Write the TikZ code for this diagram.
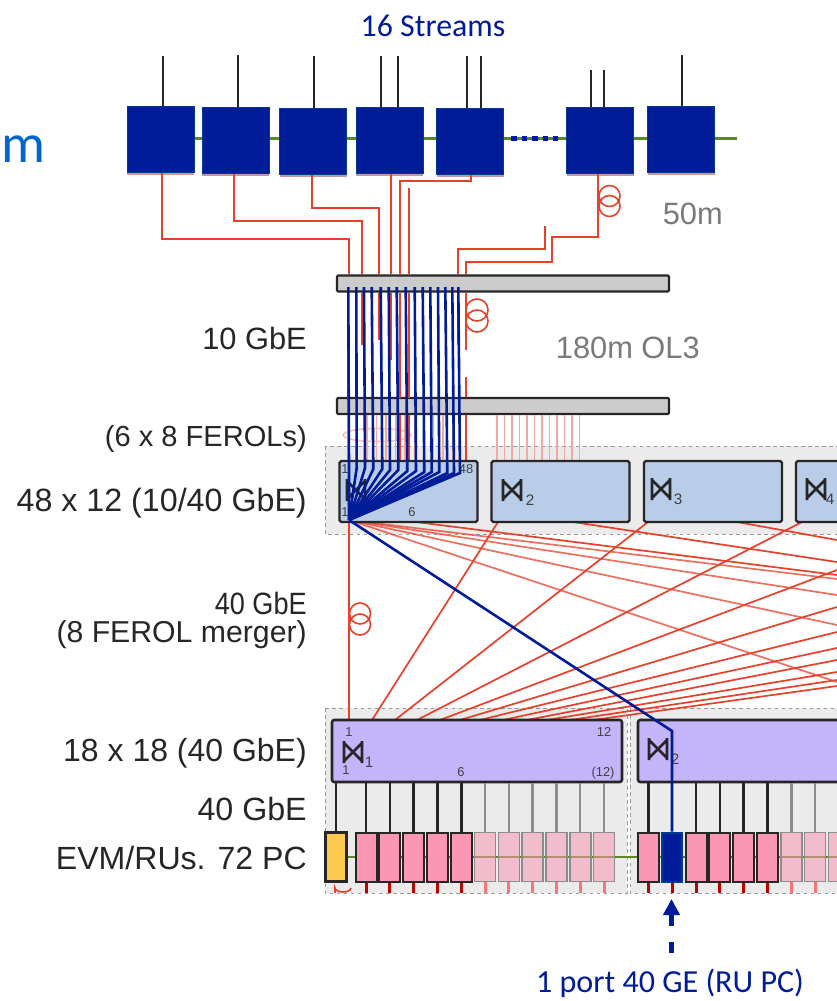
\documentclass[tikz,border=0pt]{standalone}
\usepackage{graphicx}
\usepackage{fontspec}
\setmainfont{Liberation Sans}
\newfontfamily\slidefont{Carlito}
\usetikzlibrary{arrows.meta,shadows}
\newcommand{\px}{0.03cm}
\definecolor{navy}{HTML}{001C99}
\definecolor{wirered}{HTML}{E8402A}
\definecolor{lightred}{HTML}{F2A9A0}
\definecolor{swblue}{HTML}{B9CDE8}
\definecolor{spine}{HTML}{C4B5FB}
\definecolor{pcpink}{HTML}{FB97B4}
\definecolor{greytxt}{HTML}{7A7A7A}
\definecolor{busgreen}{HTML}{5A8A22}
\definecolor{evmyellow}{HTML}{FDC94F}
\tikzset{
  feu/.style={draw=navy!70!teal,fill=navy,line width=1*\px,minimum width=67*\px,minimum height=66*\px,inner sep=0pt,
    drop shadow={shadow xshift=0pt,shadow yshift=-2.5pt,opacity=0.4,fill=red!40!black}},
  bar/.style={draw=black!85,fill=black!20,line width=2.2*\px,rounded corners=1pt,minimum width=332*\px,minimum height=16*\px,inner sep=0pt},
  leaf/.style={draw=black!85,fill=swblue,line width=2.4*\px,rounded corners=1.5pt,minimum width=138*\px,minimum height=61*\px,inner sep=0pt},
  spinebox/.style={draw=black!85,fill=spine,line width=2.6*\px,rounded corners=2pt,minimum width=290*\px,minimum height=62*\px,inner sep=0pt},
  pc/.style={draw=black!85,fill=pcpink,line width=2*\px,minimum width=21*\px,minimum height=49*\px,inner sep=0pt},
  pcfade/.style={draw=black!45,fill=pcpink,fill opacity=0.55,line width=1.6*\px,minimum width=21*\px,minimum height=49*\px,inner sep=0pt},
  band/.style={draw=black!40,fill=black!8,dashed,line width=1*\px},
  redwire/.style={draw=wirered,line width=2*\px},
  meshwire/.style={draw=wirered,line width=1.7*\px},
  fadewire/.style={draw=lightred,line width=1.6*\px},
  coil/.style={draw=wirered,line width=1.6*\px},
  blueflow/.style={draw=navy,line width=2.6*\px},
  feeder/.style={draw=black!85,line width=2.6*\px},
  feederfade/.style={draw=black!45,line width=2.4*\px},
  stubred/.style={draw=red!75!black,line width=3*\px},
  stubfade/.style={draw=red!55!white,line width=3*\px},
  lab/.style={anchor=east,font=\fontsize{26.3}{26.3}\selectfont,text=black!85,inner sep=0pt},
  tinylab/.style={font=\fontsize{11}{11}\selectfont,text=black!75,inner sep=0pt},
  sublab/.style={font=\fontsize{13}{13}\selectfont,text=black!75,inner sep=0pt},
  xbar/.pic={\draw[black!85,line width=2.6*\px] (-9,-11) -- (-9,11) (9,-11) -- (9,11) (-9,-9) -- (9,9) (-9,9) -- (9,-9);}
}
\begin{document}
\begin{tikzpicture}[x=0.03cm,y=-0.03cm]
   \clip (0,0) rectangle (837,1001);
   \fill[white] (0,0) rectangle (837,1001);

   \node[text=navy,font=\slidefont\fontsize{27.2}{27.2}\selectfont,inner sep=0pt] (streams) at (433,26) {16 Streams};
   \node[text=blue!50!cyan!80!black,font=\slidefont\fontsize{47}{47}\selectfont,anchor=west,inner sep=0pt] (cutm) at (1,149) {m};

   %readout crates on the top row
   \draw[draw=busgreen,line width=3*\px] (194,138) -- (737,138);
   \foreach \n/\cx/\cy in {a/160.5/139,b/235.5/140,c/313/141,d/389.5/140,e/470/141,f/600/140,g/681/139}
      \node[feu] (top\n) at (\cx,\cy) {};
   \draw[draw=navy,line width=5*\px,dash pattern=on 5.5*\px off 5*\px] (511,138) -- (558,138);
   \foreach \n/\xa/\ya in {a/163/56,b/238/55,c/314/56,d/381/56,d/398/56,e/467/56,e/481/56,f/591/70,f/604/70,g/682/55} {
      \coordinate (stub) at (\xa,\ya);
      \draw[black!85,line width=2*\px] (stub) -- (stub |- top\n.north);
   }

   \node[bar] (barA) at (503,283.5) {};
   \node[bar] (barB) at (503,406) {};

   %fibres from the crates down to the patch panel
   \foreach \n/\xa/\ya/\xb in {a/162/239/349,b/234/221/362,c/312/208/379,e/471/181/400}
      \draw[redwire] (\xa,0 |- top\n.south) |- (\xb,\ya) -- (\xb,0 |- barA.north);
   \draw[redwire] (391,0 |- topd.south) -- (391,0 |- barA.north);
   \coordinate (sparewire) at (409,188);
   \draw[redwire] (sparewire) -- (sparewire |- barA.north);
   \draw[redwire] (598,0 |- topf.south) |- (552,237) |- (466,262) -- (466,0 |- barA.north);
   \coordinate (loosewire) at (545,226);
   \draw[redwire] (loosewire) |- (458,249) -- (458,0 |- barA.north);
   \draw[coil] (609.5,196) circle (10.5) (609.5,206) circle (10.5);

   \node[lab,text=greytxt] (fifty) at (723,214) {50m};
   \node[lab,text=greytxt] (olthree) at (700,348) {180m OL3};

   %fibres between the two bars
   \foreach \xa/\yb in {348/400,362/345,379/340,391/360,400/398,409/398,458/345}
      \draw[redwire] (\xa,0 |- barA.south) -- (\xa,\yb);
   \draw[redwire] (466,0 |- barA.south) -- (466,350);
   \coordinate (olgap) at (466,377);
   \draw[redwire] (olgap) -- (olgap |- barB.north);
   \draw[coil] (477,310) circle (11) (477,321) circle (11);

   \draw[band] (325,446) rectangle (860,534);
   \foreach \i in {0,...,11} {
      \draw[fadewire] ({497+7.5*\i},0 |- barB.south) -- ({497+7.5*\i},460);
      \draw[fadewire] ({348+9.5*\i},0 |- barB.south) -- ({348+9.5*\i},460);
   }
   \draw[fadewire,opacity=0.7] (377,435) ellipse (34 and 6.5);
   \draw[redwire] (466,0 |- barB.south) -- (466,461);
   \draw[redwire] (400,0 |- barB.south) -- (400,461);
   \draw[redwire] (409,0 |- barB.south) -- (409,461);

   %lower switch group
   \draw[band] (325,708) rectangle (627,893);
   \draw[band] (630,708) rectangle (860,893);
   \coordinate (bandfoot) at (0,893);

   %mesh between the two switch layers
   \coordinate (hub) at (349,520);
   \draw[meshwire] (hub) -- (349,720);
   \draw[coil] (360,613.5) circle (10.5) (360,624.5) circle (10.5);
   \draw[meshwire] (372,720) -- (498,522);
   \draw[meshwire] (395,720) -- (648,522);
   \draw[meshwire] (417,720) -- (802,522);
   \foreach \xa/\yb in {440/570,460/607,480/632,503/648,527/660,547/672,570/680,593/686}
      \draw[meshwire] (\xa,720) -- (837,\yb);
   \foreach \xa/\ya/\yb in {416/522/575,573/522/562,737/522/540}
      \draw[meshwire] (\xa,\ya) -- (837,\yb);
   \foreach \yb in {682,625,595,579}
      \draw[meshwire,draw opacity=0.75] (hub) -- (837,\yb);

   \node[leaf] (swA) at (408.5,491.5) {};
   \node[leaf] (swB) at (560.5,491.5) {};
   \node[leaf] (swC) at (713,491.5) {};
   \node[leaf] (swD) at (865,491.5) {};
   \pic at (512,490) {xbar};
   \pic at (661,489) {xbar};
   \pic at (816,489) {xbar};
   \pic at (356,490) {xbar};
   \node[sublab] (subB) at (530,500) {2};
   \node[sublab] (subC) at (678,499) {3};
   \node[sublab] (subD) at (830,499) {4};
   \node[tinylab] (inone) at (345,469) {1};
   \node[tinylab] (infortyeight) at (466,469) {48};
   \node[tinylab] (outone) at (345,512) {1};
   \node[tinylab] (outsix) at (412,512) {6};

   \node[spinebox] (spineA) at (477,751) {};
   \node[spinebox] (spineB) at (783,751) {};
   \pic at (353,752) {xbar};
   \pic at (658,749) {xbar};
   \node[sublab] (subone) at (369,762) {1};
   \node[sublab] (subtwo) at (675,759) {2};
   \node[tinylab] (upone) at (349,732) {1};
   \node[tinylab] (uptwelve) at (604,732) {12};
   \node[tinylab] (downone) at (346,770) {1};
   \node[tinylab] (downsix) at (461,772) {6};
   \node[tinylab] (downtwelve) at (603,773) {(12)};

   %builder unit row
   \draw[draw=busgreen,line width=2.4*\px] (347,857) -- (837,857);
   \node[pc,fill=evmyellow,line width=2.4*\px] (evm) at (336,857) {};
   \draw[feeder] (evm.north) -- (evm.north |- spineA.south);
   \foreach \i in {0,...,4} {
      \node[pc] (ruA\i) at ({366+23.8*\i},857) {};
      \draw[feeder] (ruA\i.north) -- (ruA\i.north |- spineA.south);
      \draw[stubred] (ruA\i.south) -- (ruA\i.south |- bandfoot);
   }
   \foreach \i in {5,...,10} {
      \node[pcfade] (ruA\i) at ({366+23.8*\i},857) {};
      \draw[feederfade] (ruA\i.north) -- (ruA\i.north |- spineA.south);
      \draw[stubfade] (ruA\i.south) -- (ruA\i.south |- bandfoot);
   }
   \foreach \i in {0,2,3,4,5} {
      \node[pc] (ruB\i) at ({648.5+23.8*\i},857) {};
      \draw[feeder] (ruB\i.north) -- (ruB\i.north |- spineB.south);
      \draw[stubred] (ruB\i.south) -- (ruB\i.south |- bandfoot);
   }
   \foreach \i in {6,7,8} {
      \node[pcfade] (ruB\i) at ({648.5+23.8*\i},857) {};
      \draw[feederfade] (ruB\i.north) -- (ruB\i.north |- spineB.south);
      \draw[stubfade] (ruB\i.south) -- (ruB\i.south |- bandfoot);
   }
   \node[pc,fill=navy,draw=navy!70!teal,minimum width=20*\px] (ruB1) at (672,857) {};
   \draw[stubred] (ruB1.south) -- (ruB1.south |- bandfoot);
   \draw[coil] (335,893) -- (335,888) arc (180:0:8 and 4);

   %the one stream that is followed
   \foreach \xa/\xb/\yb in {348.3/349/468,356.3/356.7/468,364/365/468,371.7/373.3/469,380.7/382.3/469,388.7/390/470,
                            396.7/398.3/470,405.7/407.3/471,414.7/416/471,422.7/424.3/472,430.3/431.7/472,438/439.3/472,
                            445.3/447.3/473,452.3/454/473,458.3/460/473} {
      \coordinate (src) at (\xa,287);
      \draw[blueflow] (src) -- (\xb,\yb) -- (hub);
   }
   \draw[blueflow] (hub) -- (672,731) -- (ruB1.north);

   \node[lab] (tenge) at (307,338) {10 GbE};
   \node[lab,font=\fontsize{24.8}{24.8}\selectfont] (ferols) at (307,438.5) {(6 x 8 FEROLs)};
   \node[lab,font=\fontsize{27.5}{27.5}\selectfont] (leaflab) at (307,503.5) {48 x 12 (10/40 GbE)};
   \node[lab] (fortyge) at (307,603) {\scalebox{0.88}[1]{40 GbE}};
   \node[lab,font=\fontsize{25.8}{25.8}\selectfont] (merger) at (307,634.5) {(8 FEROL merger)};
   \node[lab,font=\fontsize{27.3}{27.3}\selectfont] (spinelab) at (307,753.5) {18 x 18 (40 GbE)};
   \node[lab,font=\fontsize{27.5}{27.5}\selectfont] (fortygeb) at (307,809) {40 GbE};
   \node[lab,font=\fontsize{27.4}{27.4}\selectfont] (rulab) at (307,858) {EVM/RUs. 72 PC};

   \node[text=navy,font=\slidefont\fontsize{27.4}{27.4}\selectfont,inner sep=0pt] (rulabel) at (670,983) {1 port 40 GE (RU PC)};
   \coordinate (armtail) at (671.5,926);
   \coordinate (armhead) at (671.5,899);
   \coordinate (dashtop) at (671.5,942);
   \coordinate (dashend) at (671.5,953);
   \draw[navy,line width=5*\px,-{Triangle[length=16*\px,width=16*\px]}] (armtail) -- (armhead);
   \draw[navy,line width=5*\px] (dashtop) -- (dashend);
\end{tikzpicture}
\end{document}
